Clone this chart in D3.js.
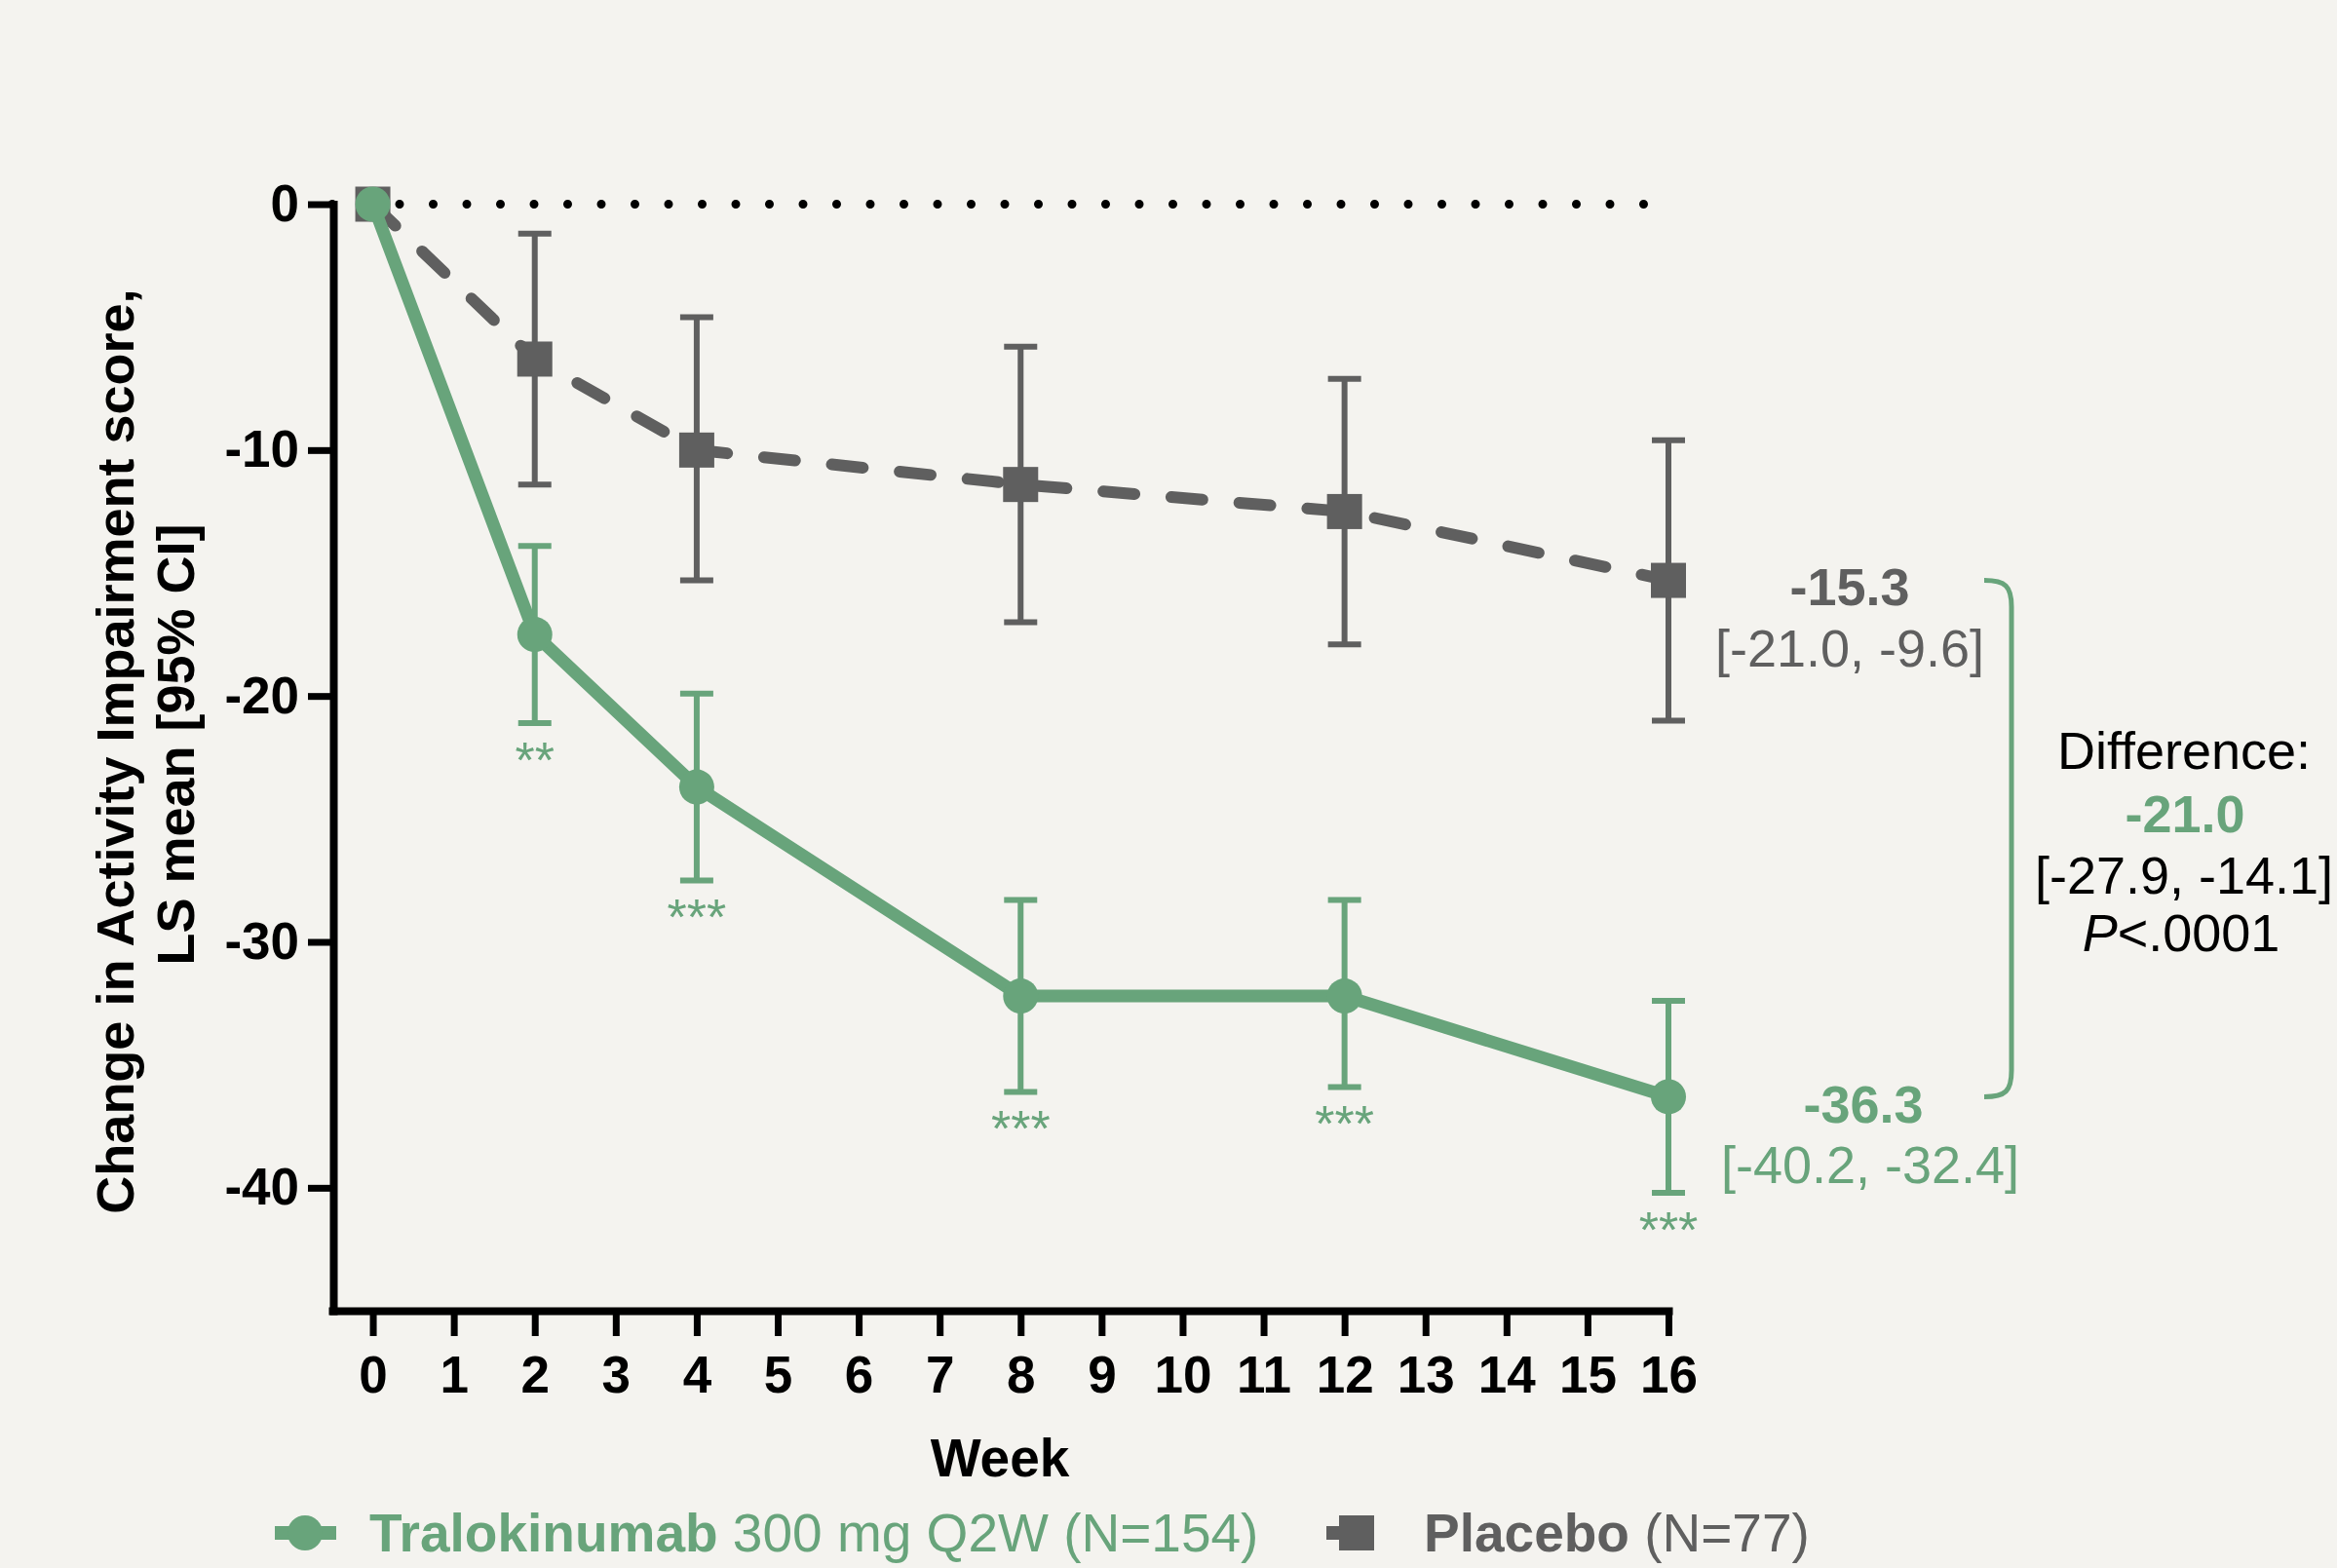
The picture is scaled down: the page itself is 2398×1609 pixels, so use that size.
<!doctype html>
<html lang="en">
    <head>
        <meta charset="utf-8">
        <title>Activity Impairment</title>
        <script type="text/javascript" src="https://cdn.jsdelivr.net/npm/d3@7"></script>
        <style>
            body { margin: 0; background: #f4f3ef; }
            svg { display: block; font-family: "Liberation Sans", Arial, sans-serif; }
        </style>
    </head>
    <body>
        <script type="text/javascript">
            // data
            var weeks = [0, 2, 4, 8, 12, 16];
            var traloMean = [0, -17.5, -23.7, -32.2, -32.2, -36.3];
            var traloLow  = [null, -21.1, -27.5, -36.1, -35.9, -40.2];
            var traloHigh = [null, -13.9, -19.9, -28.3, -28.3, -32.4];
            var placeboMean = [0, -6.3, -10.0, -11.4, -12.5, -15.3];
            var placeboLow  = [null, -11.4, -15.3, -17.0, -17.9, -21.0];
            var placeboHigh = [null, -1.2, -4.6, -5.8, -7.1, -9.6];
            var stars = ["", "**", "***", "***", "***", "***"];
            var xTicks = d3.range(0, 17);
            var yTicks = [0, -10, -20, -30, -40];

            var placeboLabel = ["-15.3", "[-21.0, -9.6]"];
            var traloLabel = ["-36.3", "[-40.2, -32.4]"];
            var diffLines = ["Difference:", "-21.0", "[-27.9, -14.1]"];

            var green = "#68a47b";
            var grey = "#5f5f5f";

            var svgW = 2398, svgH = 1609;

            var xScale = d3.scaleLinear().domain([-0.5, 16]).range([341, 1712]);
            var yScale = d3.scaleLinear().domain([-45, 0]).range([1345, 209.5]);

            var svg = d3.select("body")
                        .append("svg")
                        .attr("width", svgW)
                        .attr("height", svgH);

            svg.append("rect")
               .attr("width", svgW)
               .attr("height", svgH)
               .attr("fill", "#f4f3ef");

            function rows(mean, lo, hi) {
                return weeks.map((w, i) => ({ week: w, mean: mean[i], lo: lo[i], hi: hi[i], star: stars[i] }));
            }
            var tralo = rows(traloMean, traloLow, traloHigh);
            var placebo = rows(placeboMean, placeboLow, placeboHigh);

            // axes
            var xAxis = d3.axisBottom(xScale)
                          .tickValues(xTicks)
                          .tickSize(26)
                          .tickSizeOuter(0)
                          .tickPadding(20);
            var yAxis = d3.axisLeft(yScale)
                          .tickValues(yTicks)
                          .tickSize(26)
                          .tickSizeOuter(0)
                          .tickPadding(9)
                          .tickFormat(d3.format("d"));

            var gx = svg.append("g")
                        .attr("transform", "translate(0,1345)")
                        .call(xAxis);
            var gy = svg.append("g")
                        .attr("transform", "translate(342,0)")
                        .call(yAxis);

            [gx, gy].forEach(g => {
                g.attr("font-family", null).attr("font-size", null);
                g.select(".domain").attr("stroke", "#000").attr("stroke-width", 8).attr("stroke-linecap", "square");
                g.selectAll(".tick line").attr("stroke", "#000").attr("stroke-width", 7);
                g.selectAll(".tick text")
                 .attr("fill", "#000")
                 .style("font-size", "53px")
                 .style("font-weight", "bold");
            });
            gy.selectAll(".tick text").text(d => d === 0 ? "0" : "-" + Math.abs(d));

            svg.append("text")
               .attr("x", 1026)
               .attr("y", 1515)
               .attr("text-anchor", "middle")
               .style("font-size", "55px")
               .style("font-weight", "bold")
               .text("Week");

            var yLab = svg.append("text")
                          .attr("transform", "translate(0,771) rotate(-90)")
                          .attr("text-anchor", "middle")
                          .style("font-size", "54px")
                          .style("font-weight", "bold");
            yLab.append("tspan").attr("x", 0).attr("y", 137).text("Change in Activity Impairment score,");
            yLab.append("tspan").attr("x", 7).attr("y", 199).text("LS mean [95% CI]");

            // zero reference line
            svg.append("line")
               .attr("x1", xScale(-0.5))
               .attr("x2", xScale(15.8))
               .attr("y1", yScale(0))
               .attr("y2", yScale(0))
               .attr("stroke", "#000")
               .attr("stroke-width", 9)
               .attr("stroke-linecap", "round")
               .attr("stroke-dasharray", "0 34.5");

            var line = d3.line()
                         .x(d => xScale(d.week))
                         .y(d => yScale(d.mean));

            function drawBars(data, color) {
                var bars = svg.append("g")
                              .selectAll("g")
                              .data(data.filter(d => d.lo !== null))
                              .enter()
                              .append("g")
                              .attr("stroke", color)
                              .attr("stroke-width", 6);
                bars.append("line")
                    .attr("x1", d => xScale(d.week))
                    .attr("x2", d => xScale(d.week))
                    .attr("y1", d => yScale(d.lo))
                    .attr("y2", d => yScale(d.hi));
                bars.append("line")
                    .attr("x1", d => xScale(d.week) - 17)
                    .attr("x2", d => xScale(d.week) + 17)
                    .attr("y1", d => yScale(d.lo))
                    .attr("y2", d => yScale(d.lo));
                bars.append("line")
                    .attr("x1", d => xScale(d.week) - 17)
                    .attr("x2", d => xScale(d.week) + 17)
                    .attr("y1", d => yScale(d.hi))
                    .attr("y2", d => yScale(d.hi));
            }

            // placebo
            drawBars(placebo, grey);
            svg.append("path")
               .datum(placebo)
               .attr("d", line)
               .attr("fill", "none")
               .attr("stroke", grey)
               .attr("stroke-width", 12)
               .attr("stroke-linecap", "round")
               .attr("stroke-dasharray", "32 38");
            svg.append("g")
               .selectAll("rect")
               .data(placebo)
               .enter()
               .append("rect")
               .attr("x", d => xScale(d.week) - 18)
               .attr("y", d => yScale(d.mean) - 18)
               .attr("width", 36)
               .attr("height", 36)
               .attr("fill", grey);

            // tralokinumab
            drawBars(tralo, green);
            svg.append("path")
               .datum(tralo)
               .attr("d", line)
               .attr("fill", "none")
               .attr("stroke", green)
               .attr("stroke-width", 13)
               .attr("stroke-linejoin", "round");
            svg.append("g")
               .selectAll("circle")
               .data(tralo)
               .enter()
               .append("circle")
               .attr("cx", d => xScale(d.week))
               .attr("cy", d => yScale(d.mean))
               .attr("r", 18)
               .attr("fill", green);

            svg.append("g")
               .selectAll("text")
               .data(tralo.filter(d => d.star))
               .enter()
               .append("text")
               .attr("x", d => xScale(d.week))
               .attr("y", d => yScale(d.lo) + 56)
               .attr("text-anchor", "middle")
               .attr("fill", green)
               .style("font-size", "52px")
               .text(d => d.star);

            // end-of-study labels
            var last = weeks.length - 1;
            var yP = yScale(placeboMean[last]);
            var yT = yScale(traloMean[last]);

            svg.append("text").attr("x", 1898).attr("y", yP + 25)
               .attr("text-anchor", "middle").attr("fill", grey)
               .style("font-size", "54px").style("font-weight", "bold")
               .text(placeboLabel[0]);
            svg.append("text").attr("x", 1898).attr("y", yP + 88)
               .attr("text-anchor", "middle").attr("fill", grey)
               .style("font-size", "54px")
               .text(placeboLabel[1]);
            svg.append("text").attr("x", 1912).attr("y", yT + 27)
               .attr("text-anchor", "middle").attr("fill", green)
               .style("font-size", "54px").style("font-weight", "bold")
               .text(traloLabel[0]);
            svg.append("text").attr("x", 1919).attr("y", yT + 89)
               .attr("text-anchor", "middle").attr("fill", green)
               .style("font-size", "54px")
               .text(traloLabel[1]);

            // bracket
            svg.append("path")
               .attr("d", "M2036," + yP + " C2058," + yP + " 2064," + (yP + 6) + " 2064," + (yP + 27) +
                          " V" + (yT - 27) + " C2064," + (yT - 6) + " 2058," + yT + " 2036," + yT)
               .attr("fill", "none")
               .attr("stroke", green)
               .attr("stroke-width", 5);

            var diff = svg.append("g").attr("text-anchor", "middle").style("font-size", "54px");
            diff.append("text").attr("x", 2241).attr("y", 789).attr("fill", "#000").text(diffLines[0]);
            diff.append("text").attr("x", 2242).attr("y", 854).attr("fill", green)
                .style("font-weight", "bold").text(diffLines[1]);
            diff.append("text").attr("x", 2241).attr("y", 917).attr("fill", "#000").text(diffLines[2]);
            var pTxt = diff.append("text").attr("x", 2238).attr("y", 976).attr("fill", "#000");
            pTxt.append("tspan").style("font-style", "italic").text("P");
            pTxt.append("tspan").text("<.0001");

            // legend
            var leg = svg.append("g");
            leg.append("line").attr("x1", 282).attr("x2", 345).attr("y1", 1573).attr("y2", 1573)
               .attr("stroke", green).attr("stroke-width", 14);
            leg.append("circle").attr("cx", 313).attr("cy", 1573).attr("r", 18).attr("fill", green);
            var t1 = leg.append("text").attr("x", 379).attr("y", 1592).attr("fill", green).style("font-size", "55px");
            t1.append("tspan").style("font-weight", "bold").text("Tralokinumab");
            t1.append("tspan").text(" 300 mg Q2W (N=154)");

            leg.append("line").attr("x1", 1361).attr("x2", 1392).attr("y1", 1573).attr("y2", 1573)
               .attr("stroke", grey).attr("stroke-width", 14);
            leg.append("rect").attr("x", 1374).attr("y", 1555).attr("width", 36).attr("height", 36).attr("fill", grey);
            var t2 = leg.append("text").attr("x", 1461).attr("y", 1592).attr("fill", grey).style("font-size", "55px");
            t2.append("tspan").style("font-weight", "bold").text("Placebo");
            t2.append("tspan").text(" (N=77)");
        </script>
    </body>
</html>
